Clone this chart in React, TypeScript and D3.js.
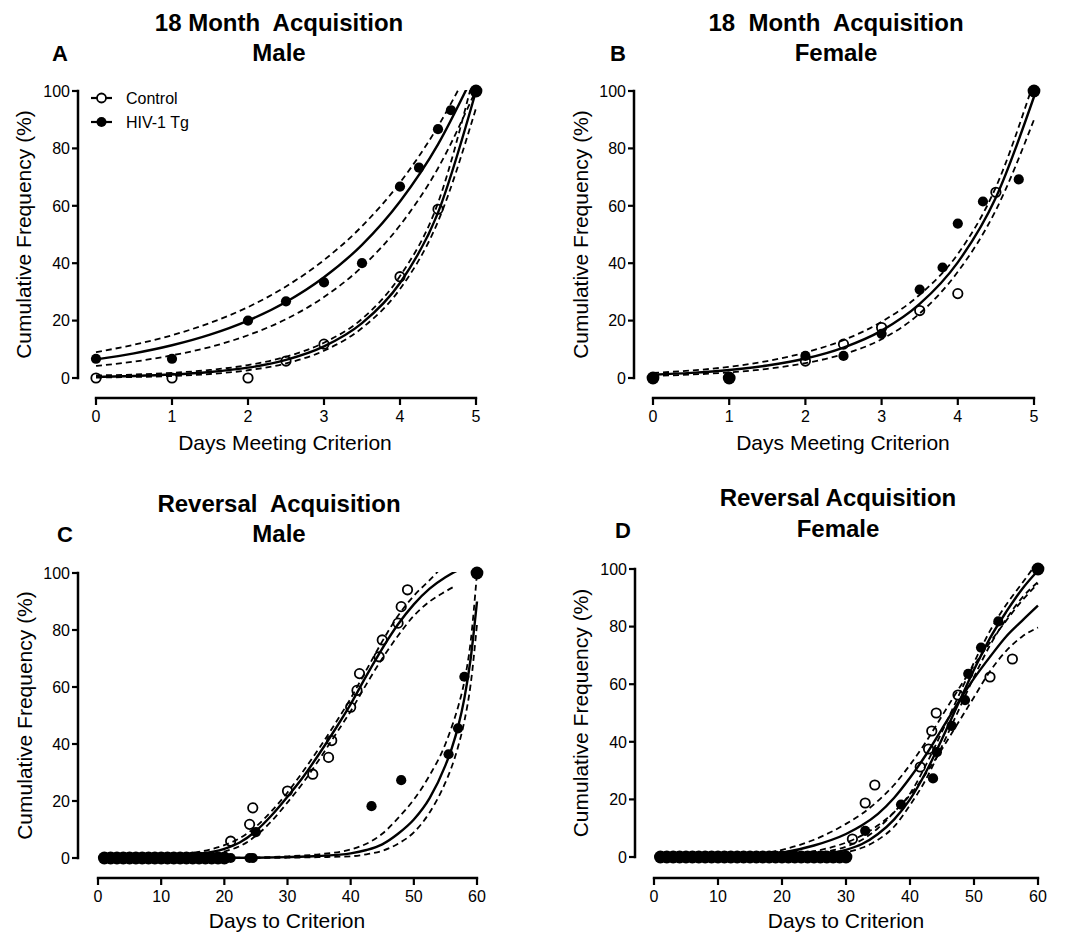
import React from 'react';
import * as d3 from 'd3';

type Pt = [number, number];

// ---------- A: 18 month acquisition, male ----------
const aControlX = [0, 1, 2, 2.5, 3, 4, 4.5, 5];
const aControlY = [0, 0, 0, 5.9, 11.8, 35.3, 58.8, 100];
const aHivX = [0, 1, 2, 2.5, 3, 3.5, 4, 4.25, 4.5, 4.67, 5];
const aHivY = [6.7, 6.7, 20, 26.7, 33.3, 40, 66.7, 73.3, 86.7, 93.3, 100];

const aHivFit: Pt[] = [[0, 6.5], [0.5, 8.6], [1, 11.4], [1.5, 15.1], [2, 20], [2.5, 26.5], [3, 35.1], [3.5, 46.4], [4, 61.5], [4.5, 81.4], [4.9, 102]];
const aHivUpper: Pt[] = [[0, 9], [0.5, 11.6], [1, 14.9], [1.5, 19.2], [2, 24.7], [2.5, 31.9], [3, 41.1], [3.5, 52.9], [4, 68.1], [4.5, 87.7], [4.8, 102]];
const aHivLower: Pt[] = [[0, 4.2], [0.5, 5.7], [1, 7.9], [1.5, 10.8], [2, 14.9], [2.5, 20.5], [3, 28.2], [3.5, 38.7], [4, 53.2], [4.5, 73.1], [5, 100.4]];
const aCtrlFit: Pt[] = [[0, 0.4], [0.5, 0.7], [1, 1.2], [1.5, 2.1], [2, 3.6], [2.5, 6.3], [3, 11], [3.5, 19.1], [4, 33.1], [4.5, 57.6], [5, 100]];
const aCtrlUpper: Pt[] = [[0, 0.9], [0.5, 1.2], [1, 1.8], [1.5, 2.8], [2, 4.5], [2.5, 7.4], [3, 12.3], [3.5, 20.6], [4, 35.5], [4.5, 61], [4.93, 101]];
const aCtrlLower: Pt[] = [[0, 0.15], [0.5, 0.35], [1, 0.7], [1.5, 1.4], [2, 2.7], [2.5, 5.1], [3, 9.5], [3.5, 17.4], [4, 31], [4.5, 54.5], [5, 94]];

// ---------- B: 18 month acquisition, female ----------
const bControlX = [0, 1, 2, 2.5, 3, 3.5, 4, 4.5, 5];
const bControlY = [0, 0, 5.9, 11.8, 17.6, 23.5, 29.4, 64.7, 100];
const bHivX = [0, 1, 2, 2.5, 3, 3.5, 3.8, 4, 4.33, 4.8, 5];
const bHivY = [0, 0, 7.7, 7.7, 15.4, 30.8, 38.5, 53.8, 61.5, 69.2, 100];

const bFit: Pt[] = [[0, 1.14], [0.5, 1.78], [1, 2.78], [1.5, 4.34], [2, 6.78], [2.5, 10.6], [3, 16.5], [3.5, 25.8], [4, 40.3], [4.5, 62.9], [5, 98]];
const bUpper: Pt[] = [[0, 1.8], [0.5, 2.6], [1, 3.9], [1.5, 5.9], [2, 8.9], [2.5, 13.2], [3, 19.6], [3.5, 29], [4, 43.2], [4.5, 66.5], [4.97, 101]];
const bLower: Pt[] = [[0, 0.7], [0.5, 1.2], [1, 1.95], [1.5, 3.2], [2, 5.2], [2.5, 8.3], [3, 13.5], [3.5, 22.5], [4, 37], [4.5, 58.5], [5, 90]];

// ---------- C: reversal acquisition, male ----------
const cControlX = [1, 2, 3, 4, 5, 6, 7, 8, 9, 10, 11, 12, 13, 14, 15, 16, 17, 18, 19, 20,
  21, 24, 24.5, 30, 34, 36.5, 37, 40, 41, 41.4, 44.5, 45, 47.5, 48, 49, 60];
const cControlY = [0, 0, 0, 0, 0, 0, 0, 0, 0, 0, 0, 0, 0, 0, 0, 0, 0, 0, 0, 0,
  5.9, 11.8, 17.6, 23.5, 29.4, 35.3, 41.2, 52.9, 58.8, 64.7, 70.6, 76.5, 82.4, 88.2, 94.1, 100];
const cHivX = [1, 2, 3, 4, 5, 6, 7, 8, 9, 10, 11, 12, 13, 14, 15, 16, 17, 18, 19, 20, 21, 24, 24.5,
  25, 43.3, 48, 55.5, 57, 58, 60];
const cHivY = [0, 0, 0, 0, 0, 0, 0, 0, 0, 0, 0, 0, 0, 0, 0, 0, 0, 0, 0, 0, 0, 0, 0,
  9.1, 18.2, 27.3, 36.4, 45.5, 63.6, 100];

const cCtrlFit: Pt[] = [[1, 0], [5, 0.1], [10, 0.4], [15, 1.2], [20, 3.2], [22.5, 5.5], [25, 9.5], [27.5, 15], [30, 21.5], [32.5, 28.5], [35, 36.5], [37.5, 45], [40, 54], [42.5, 64], [45, 73.5], [47.5, 82], [50, 89], [52.5, 94.5], [55, 98.5], [57, 101]];
const cCtrlUpper: Pt[] = [[1, 0], [5, 0.15], [10, 0.6], [15, 1.8], [20, 4.5], [22.5, 7], [25, 11], [27.5, 16.5], [30, 23], [32.5, 30.5], [35, 38.5], [37.5, 47], [40, 56], [42.5, 66], [45, 76], [47.5, 85], [50, 92], [52.5, 97.5], [54, 101]];
const cCtrlLower: Pt[] = [[1, 0], [5, 0.05], [10, 0.2], [15, 0.6], [20, 2.3], [22.5, 4.2], [25, 7.8], [27.5, 13], [30, 19.5], [32.5, 26.5], [35, 34.5], [37.5, 43], [40, 51.5], [42.5, 61], [45, 70], [47.5, 78], [50, 85], [52.5, 90], [55, 93.5], [56.6, 95.5]];
const cHivFit: Pt[] = [[1, 0], [20, 0.05], [25, 0.1], [30, 0.3], [35, 0.7], [40, 1.6], [42.5, 2.8], [45, 4.8], [47.5, 8.5], [50, 13.5], [52.5, 21], [55, 32.5], [56, 38.5], [57, 46], [58, 56], [59, 70], [60, 90]];
const cHivUpper: Pt[] = [[1, 0], [20, 0.1], [25, 0.2], [30, 0.6], [35, 1.3], [40, 3], [42.5, 5], [45, 8.5], [47.5, 14], [50, 20.5], [52.5, 29], [55, 40], [56, 46], [57, 53], [58, 62], [59, 76], [60, 100]];
const cHivLower: Pt[] = [[1, 0], [25, 0], [30, 0.1], [35, 0.3], [40, 0.6], [42.5, 1.3], [45, 2.5], [47.5, 5], [50, 9], [52.5, 16], [55, 26.5], [56, 32], [57, 39], [58, 48], [59, 61], [60, 82]];

// ---------- D: reversal acquisition, female ----------
const dControlX = [1, 2, 3, 4, 5, 6, 7, 8, 9, 10, 11, 12, 13, 14, 15, 16, 17, 18, 19, 20, 21, 22, 23, 24, 25, 26, 27, 28, 29, 30,
  31, 33, 34.5, 41.6, 42.9, 43.4, 44.1, 47.5, 52.5, 56, 60];
const dControlY = [0, 0, 0, 0, 0, 0, 0, 0, 0, 0, 0, 0, 0, 0, 0, 0, 0, 0, 0, 0, 0, 0, 0, 0, 0, 0, 0, 0, 0, 0,
  6.25, 18.75, 25, 31.25, 37.5, 43.75, 50, 56.25, 62.5, 68.75, 100];
const dHivX = [1, 2, 3, 4, 5, 6, 7, 8, 9, 10, 11, 12, 13, 14, 15, 16, 17, 18, 19, 20, 21, 22, 23, 24, 25, 26, 27, 28, 29, 30,
  33, 38.6, 43.6, 44.2, 46.5, 48.6, 49.1, 51.1, 53.8, 60];
const dHivY = [0, 0, 0, 0, 0, 0, 0, 0, 0, 0, 0, 0, 0, 0, 0, 0, 0, 0, 0, 0, 0, 0, 0, 0, 0, 0, 0, 0, 0, 0,
  9.1, 18.2, 27.3, 36.4, 45.5, 54.5, 63.6, 72.7, 81.8, 100];

const dCtrlFit: Pt[] = [[1, 0], [10, 0.2], [15, 0.5], [20, 1.5], [25, 4], [30, 8], [32.5, 11], [35, 15], [37.5, 20.5], [40, 27.5], [42.5, 35.5], [45, 44.5], [47.5, 53.5], [50, 62], [52.5, 69.5], [55, 76.5], [57.5, 82], [60, 87.3]];
const dCtrlUpper: Pt[] = [[1, 0], [10, 0.3], [15, 0.8], [20, 2.5], [25, 6], [30, 11.5], [32.5, 15], [35, 19.5], [37.5, 25], [40, 32], [42.5, 40], [45, 49], [47.5, 58], [50, 66.5], [52.5, 74.5], [55, 82], [57.5, 89], [60, 95]];
const dCtrlLower: Pt[] = [[1, 0], [10, 0.05], [15, 0.2], [20, 0.7], [25, 2], [30, 5], [32.5, 7.5], [35, 11], [37.5, 15.5], [40, 21.5], [42.5, 29], [45, 37.5], [47.5, 46.5], [50, 55.5], [52.5, 64.5], [55, 71.5], [57.5, 76.5], [60, 79.7]];
const dHivFit: Pt[] = [[1, 0], [15, 0.05], [20, 0.2], [25, 0.8], [30, 2.5], [32.5, 4.5], [35, 8], [37.5, 13], [40, 20], [42.5, 29.5], [45, 41], [47.5, 53], [50, 65], [52.5, 76], [55, 85], [57.5, 93], [60, 99.5]];
const dHivUpper: Pt[] = [[1, 0], [15, 0.1], [20, 0.4], [25, 1.3], [30, 3.6], [32.5, 6], [35, 10], [37.5, 15.5], [40, 22], [42.5, 32], [45, 43.5], [47.5, 55.5], [50, 67.5], [52.5, 78.5], [55, 87.5], [57.5, 95], [59.3, 100.5]];
const dHivLower: Pt[] = [[1, 0], [20, 0.1], [25, 0.4], [30, 1.6], [32.5, 3.2], [35, 6], [37.5, 10.5], [40, 18], [42.5, 27], [45, 38.5], [47.5, 50.5], [50, 62.5], [52.5, 73.5], [55, 82.5], [57.5, 90], [60, 95.5]];

const yTicks = [0, 20, 40, 60, 80, 100];
const xTicksShort = [0, 1, 2, 3, 4, 5];
const xTicksLong = [0, 10, 20, 30, 40, 50, 60];
const legendLabels = ['Control', 'HIV-1 Tg'];

const FONT = '"Liberation Sans", Arial, Helvetica, sans-serif';

interface PanelDef {
  id: string;
  letter: string;
  title: string[];
  xLabel: string;
  xDomain: [number, number];
  xTicks: number[];
  left: number; right: number; top: number; bottom: number;
  yAxisX: number; xAxisY: number;
  titleX: number; titleY: [number, number];
  letterX: number; letterY: number;
  yLabelX: number; xLabelX: number; xLabelY: number;
  control: { x: number[]; y: number[] };
  hiv: { x: number[]; y: number[] };
  solid: Pt[][];
  dashed: Pt[][];
  legend?: boolean;
}

const panels: PanelDef[] = [
  {
    id: 'a', letter: 'A', title: ['18 Month  Acquisition', 'Male'], xLabel: 'Days Meeting Criterion',
    xDomain: [0, 5], xTicks: xTicksShort,
    left: 96, right: 476, top: 91, bottom: 378, yAxisX: 78, xAxisY: 398,
    titleX: 279, titleY: [31, 61], letterX: 52, letterY: 61,
    yLabelX: 31, xLabelX: 285, xLabelY: 450,
    control: { x: aControlX, y: aControlY }, hiv: { x: aHivX, y: aHivY },
    solid: [aHivFit, aCtrlFit], dashed: [aHivUpper, aHivLower, aCtrlUpper, aCtrlLower], legend: true,
  },
  {
    id: 'b', letter: 'B', title: ['18  Month  Acquisition', 'Female'], xLabel: 'Days Meeting Criterion',
    xDomain: [0, 5], xTicks: xTicksShort,
    left: 653, right: 1034, top: 91, bottom: 378, yAxisX: 634, xAxisY: 398,
    titleX: 836, titleY: [31, 61], letterX: 610, letterY: 61,
    yLabelX: 588, xLabelX: 843, xLabelY: 450,
    control: { x: bControlX, y: bControlY }, hiv: { x: bHivX, y: bHivY },
    solid: [bFit], dashed: [bUpper, bLower],
  },
  {
    id: 'c', letter: 'C', title: ['Reversal  Acquisition', 'Male'], xLabel: 'Days to Criterion',
    xDomain: [0, 60], xTicks: xTicksLong,
    left: 98, right: 477, top: 573, bottom: 858, yAxisX: 78, xAxisY: 878,
    titleX: 279, titleY: [512, 542], letterX: 57, letterY: 542,
    yLabelX: 32, xLabelX: 287, xLabelY: 928,
    control: { x: cControlX, y: cControlY }, hiv: { x: cHivX, y: cHivY },
    solid: [cCtrlFit, cHivFit], dashed: [cCtrlUpper, cCtrlLower, cHivUpper, cHivLower],
  },
  {
    id: 'd', letter: 'D', title: ['Reversal Acquisition', 'Female'], xLabel: 'Days to Criterion',
    xDomain: [0, 60], xTicks: xTicksLong,
    left: 654, right: 1038, top: 569, bottom: 857, yAxisX: 635, xAxisY: 878,
    titleX: 838, titleY: [506, 537], letterX: 615, letterY: 538,
    yLabelX: 588, xLabelX: 846, xLabelY: 928,
    control: { x: dControlX, y: dControlY }, hiv: { x: dHivX, y: dHivY },
    solid: [dCtrlFit, dHivFit], dashed: [dCtrlUpper, dCtrlLower, dHivUpper, dHivLower],
  },
];

function zip(xs: number[], ys: number[]): Pt[] {
  return xs.map((v, i) => [v, ys[i]] as Pt);
}

function Panel({ p }: { p: PanelDef }) {
  const x = d3.scaleLinear().domain(p.xDomain).range([p.left, p.right]);
  const y = d3.scaleLinear().domain([0, 100]).range([p.bottom, p.top]);
  const line = d3.line<Pt>().x(d => x(d[0])).y(d => y(d[1])).curve(d3.curveMonotoneX);

  const ctrl = zip(p.control.x, p.control.y);
  const hiv = zip(p.hiv.x, p.hiv.y);
  const ctrlKeys = new Set(ctrl.map(d => `${d[0]}|${d[1]}`));
  const shared = hiv.filter(d => ctrlKeys.has(`${d[0]}|${d[1]}`));
  const clipId = `clip-${p.id}`;
  const yMid = (p.top + p.bottom) / 2;

  return (
    <g>
      <defs>
        <clipPath id={clipId}>
          <rect x={p.left - 8} y={p.top - 1} width={p.right - p.left + 16} height={p.bottom - p.top + 12} />
        </clipPath>
      </defs>

      {/* titles */}
      <text x={p.titleX} y={p.titleY[0]} textAnchor="middle" fontSize={24} fontWeight="bold" style={{ whiteSpace: 'pre' }}>{p.title[0]}</text>
      <text x={p.titleX} y={p.titleY[1]} textAnchor="middle" fontSize={24} fontWeight="bold">{p.title[1]}</text>
      <text x={p.letterX} y={p.letterY} fontSize={22} fontWeight="bold">{p.letter}</text>

      {/* y axis */}
      <line x1={p.yAxisX} x2={p.yAxisX} y1={y(100) - 1.2} y2={y(0) + 1.2} stroke="#000" strokeWidth={2.5} />
      {yTicks.map(t => (
        <g key={t}>
          <line x1={p.yAxisX - 6} x2={p.yAxisX} y1={y(t)} y2={y(t)} stroke="#000" strokeWidth={2.2} />
          <text x={p.yAxisX - 8} y={y(t)} dy="0.36em" textAnchor="end" fontSize={16}>{t}</text>
        </g>
      ))}
      <text transform={`translate(${p.yLabelX},${yMid}) rotate(-90)`} textAnchor="middle" fontSize={21}>Cumulative Frequency (%)</text>

      {/* x axis */}
      <line x1={x(p.xDomain[0]) - 1.2} x2={x(p.xDomain[1]) + 1.2} y1={p.xAxisY} y2={p.xAxisY} stroke="#000" strokeWidth={2.5} />
      {p.xTicks.map(t => (
        <g key={t}>
          <line x1={x(t)} x2={x(t)} y1={p.xAxisY} y2={p.xAxisY + 7} stroke="#000" strokeWidth={2.2} />
          <text x={x(t)} y={p.xAxisY + 24} textAnchor="middle" fontSize={16}>{t}</text>
        </g>
      ))}
      <text x={p.xLabelX} y={p.xLabelY} textAnchor="middle" fontSize={21}>{p.xLabel}</text>

      {/* fitted curves */}
      <g clipPath={`url(#${clipId})`} fill="none" stroke="#000">
        {p.dashed.map((c, i) => (
          <path key={`d${i}`} d={line(c) || ''} strokeWidth={1.8} strokeDasharray="6 4" />
        ))}
        {p.solid.map((c, i) => (
          <path key={`s${i}`} d={line(c) || ''} strokeWidth={2.4} />
        ))}
      </g>

      {/* data points */}
      {ctrl.map((d, i) => (
        <circle key={`c${i}`} cx={x(d[0])} cy={y(d[1])} r={4.7} fill="none" stroke="#000" strokeWidth={1.8} />
      ))}
      {hiv.map((d, i) => (
        <circle key={`h${i}`} cx={x(d[0])} cy={y(d[1])} r={5.1} fill="#000" />
      ))}
      {shared.map((d, i) => (
        <circle key={`b${i}`} cx={x(d[0])} cy={y(d[1])} r={6.4} fill="#000" />
      ))}

      {p.legend && (
        <g>
          {legendLabels.map((lab, i) => {
            const ly = 98 + i * 24;
            return (
              <g key={lab}>
                <line x1={91} x2={112} y1={ly} y2={ly} stroke="#000" strokeWidth={2.2} />
                {i === 0
                  ? <circle cx={101.5} cy={ly} r={4.5} fill="#fff" stroke="#000" strokeWidth={1.8} />
                  : <circle cx={101.5} cy={ly} r={5} fill="#000" />}
                <text x={126} y={ly} dy="0.36em" fontSize={16}>{lab}</text>
              </g>
            );
          })}
        </g>
      )}
    </g>
  );
}

export default function App() {
  return (
    <svg width={1075} height={934} viewBox="0 0 1075 934"
      style={{ position: 'absolute', left: 0, top: 0, background: '#fff' }}
      fontFamily={FONT} fill="#000">
      <rect width={1075} height={934} fill="#fff" />
      {panels.map(p => <Panel key={p.id} p={p} />)}
    </svg>
  );
}
